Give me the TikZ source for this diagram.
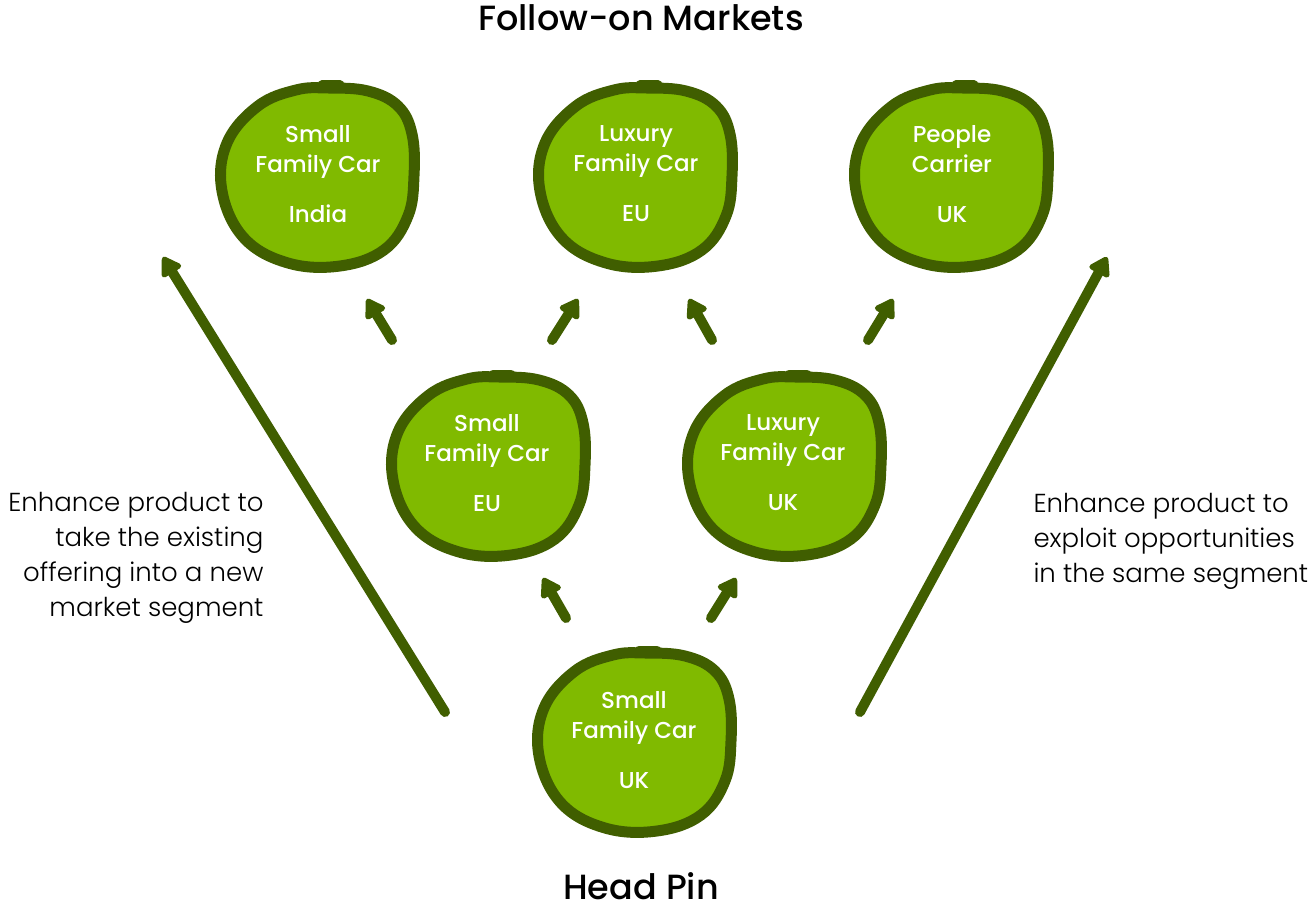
\documentclass[tikz,border=0pt]{standalone}
\usepackage{fontspec}
\setmainfont{Poppins}
\newfontfamily\sidefont{Poppins Light}
\newfontfamily\medfont{Poppins Medium}
\usetikzlibrary{arrows.meta}
\definecolor{dgreen}{RGB}{64,94,0}
\definecolor{lgreen}{RGB}{128,186,0}
\tikzset{
  blob/.pic={
    \draw[line width=11pt, draw=dgreen, fill=lgreen, line join=round]
      plot[smooth cycle, tension=0.65] coordinates{
        (10,-88) (50,-85) (80,-70) (94,-42) (96,0) (90,40) (66,74) (22,90)
        (-30,87) (-74,62) (-96,15) (-91,-33) (-60,-70) (-22,-86)};
    \draw[line width=9pt, draw=dgreen, line cap=round] (4,-91) -- (22,-91);
  },
  blobtext/.style={text=white, align=center, font=\medfont\fontsize{23}{30}\selectfont},
  sidetext/.style={font=\sidefont\fontsize{26}{35}\selectfont, text=black},
  title/.style={font=\medfont\fontsize{35}{40}\selectfont, text=black},
  arr/.style={line width=10pt, draw=dgreen, line cap=round,
    -{Triangle[round, length=21pt, width=25pt]}},
}
\begin{document}
\begin{tikzpicture}[x=1pt,y=-1pt]
\useasboundingbox (0,0) rectangle (1309,909);
% blobs
\pic at (318,176) {blob};
\pic at (636,176) {blob};
\pic at (952,176) {blob};
\pic at (489,465) {blob};
\pic at (785,465) {blob};
\pic at (635,741) {blob};
% blob texts
\node[blobtext] (b1) at (318,174) {Small\\Family Car\\[20pt]India};
\node[blobtext] (b2) at (636,174) {Luxury\\Family Car\\[20pt]EU};
\node[blobtext] (b3) at (952,174) {People\\Carrier\\[20pt]UK};
\node[blobtext] (b4) at (487,463) {Small\\Family Car\\[20pt]EU};
\node[blobtext] (b5) at (783,463) {Luxury\\Family Car\\[20pt]UK};
\node[blobtext] (b6) at (634,740) {Small\\Family Car\\[20pt]UK};
% titles
\node[title] (t1) at (641,18) {Follow-on Markets};
\node[title] (t2) at (641,886) {Head Pin};
% side texts
\node[sidetext, anchor=east, align=right] (l1) at (267,558) {Enhance product to\\take the existing\\offering into a new\\market segment};
\node[sidetext, anchor=west, align=left] (r1) at (1030,541) {Enhance product to\\exploit opportunities\\in the same segment};
% arrow coordinates
\coordinate (a1s) at (392,340); \coordinate (a1e) at (367,299);
\coordinate (a2s) at (552,340); \coordinate (a2e) at (578,299);
\coordinate (a3s) at (712,340); \coordinate (a3e) at (689,299);
\coordinate (a4s) at (868,340); \coordinate (a4e) at (893,299);
\coordinate (a5s) at (566,618); \coordinate (a5e) at (543,578);
\coordinate (a6s) at (711,618); \coordinate (a6e) at (736,578);
\coordinate (l1s) at (445,712); \coordinate (l1e) at (163,257);
\coordinate (r1s) at (860,712); \coordinate (r1e) at (1107,257);
\foreach \i in {a1,a2,a3,a4,a5,a6,l1,r1}{
  \draw[arr] (\i s) -- (\i e);
}
\end{tikzpicture}
\end{document}
